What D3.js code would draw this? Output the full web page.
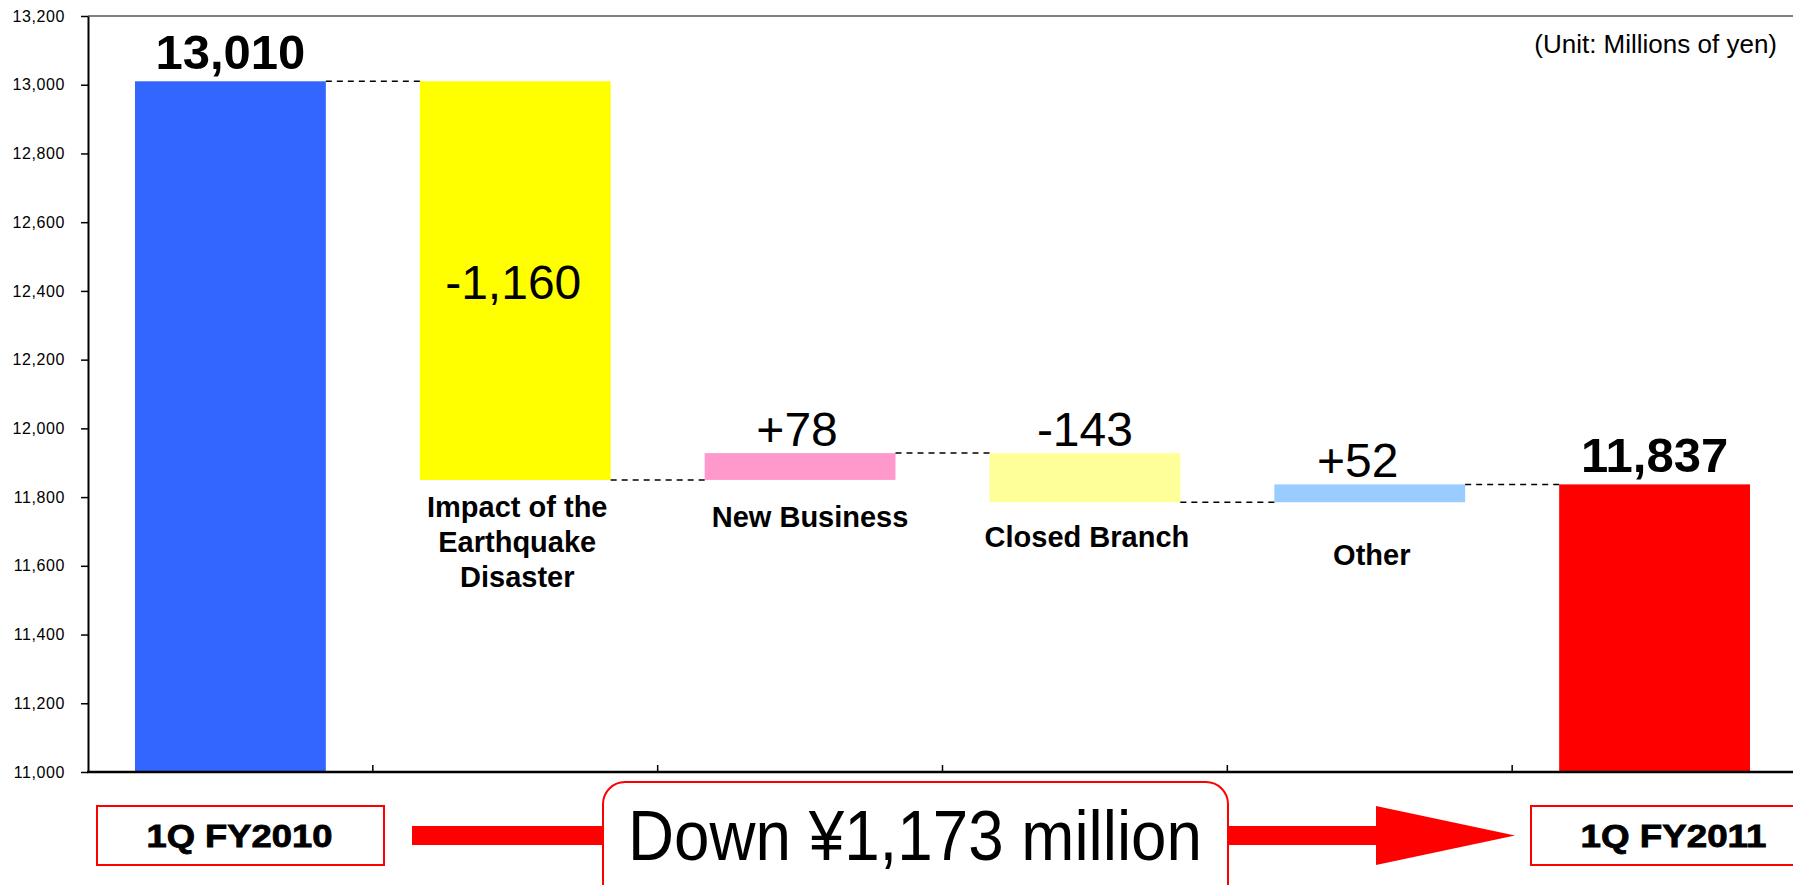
<!DOCTYPE html>
<html>
<head>
<meta charset="utf-8">
<script src="https://cdn.jsdelivr.net/npm/d3@7"></script>
<style>
  body { margin: 0; background: #fff; }
  text { font-family: "Liberation Sans", Arial, sans-serif; }
</style>
</head>
<body>
<div id="chart"></div>
<script>
const width = 1793, height = 885;

// data
const categories = ["1Q FY2010", "Impact of the Earthquake Disaster", "New Business", "Closed Branch", "Other", "1Q FY2011"];
const categoryLines = [[], ["Impact of the", "Earthquake", "Disaster"], ["New Business"], ["Closed Branch"], ["Other"], []];
const startValue = 13010;
const deltas = [-1160, 78, -143, 52];
const endValue = 11837;
const valueLabels = ["13,010", "-1,160", "+78", "-143", "+52", "11,837"];
const yTicks = [11000, 11200, 11400, 11600, 11800, 12000, 12200, 12400, 12600, 12800, 13000, 13200];
const unitText = "(Unit: Millions of yen)";
const summaryText = "Down ¥1,173 million";

// styles / layout
const barColors = ["#3366FF", "#FFFF00", "#FF99CC", "#FFFF99", "#99CCFF", "#FF0000"];
const labelDy = [0, 37, 47, 45, 63, 0];
const valueDx = [0, -2, -3, 0, -12, 0];
const margin = { top: 16, right: -4, bottom: 113, left: 88 };

const svg = d3.select("#chart").append("svg")
  .attr("width", width)
  .attr("height", height);

const x = d3.scaleBand()
  .domain(categories)
  .range([margin.left, width - margin.right])
  .padding(0);

const y = d3.scaleLinear()
  .domain([11000, 13200])
  .range([height - margin.bottom, margin.top]);

const barW = x.bandwidth() * 0.67;
const barOff = (x.bandwidth() - barW) / 2;

// build waterfall steps
const steps = [];
steps.push({ cat: categories[0], from: y.domain()[0], to: startValue, total: startValue });
let running = startValue;
deltas.forEach((d, i) => {
  steps.push({ cat: categories[i + 1], from: running, to: running + d, total: running + d });
  running += d;
});
steps.push({ cat: categories[5], from: y.domain()[0], to: endValue, total: endValue });

// top border
svg.append("line")
  .attr("x1", margin.left).attr("x2", width)
  .attr("y1", y(13200)).attr("y2", y(13200))
  .attr("stroke", "#808080").attr("stroke-width", 2);

// bars
svg.selectAll("rect.bar")
  .data(steps)
  .join("rect")
  .attr("class", "bar")
  .attr("x", d => x(d.cat) + barOff)
  .attr("width", barW)
  .attr("y", d => y(Math.max(d.from, d.to)))
  .attr("height", d => Math.abs(y(d.from) - y(d.to)))
  .attr("fill", (d, i) => barColors[i]);

// dashed connectors
svg.selectAll("line.conn")
  .data(steps.slice(0, -1))
  .join("line")
  .attr("class", "conn")
  .attr("x1", d => x(d.cat) + barOff + barW)
  .attr("x2", (d, i) => x(steps[i + 1].cat) + barOff)
  .attr("y1", d => y(d.total))
  .attr("y2", d => y(d.total))
  .attr("stroke", "#000")
  .attr("stroke-width", 1.5)
  .attr("stroke-dasharray", "6,5");

// y axis
const yAxis = svg.append("g")
  .attr("transform", `translate(${margin.left},0)`)
  .call(d3.axisLeft(y).tickValues(yTicks).tickFormat(d3.format(",")).tickSize(7).tickSizeOuter(0).tickPadding(16));
yAxis.select(".domain").attr("stroke", "#000").attr("stroke-width", 2);
yAxis.selectAll(".tick line").attr("stroke", "#000").attr("stroke-width", 1.5);
yAxis.selectAll(".tick text")
  .attr("font-family", "\"Liberation Sans\", Arial, sans-serif")
  .attr("font-size", 16)
  .attr("letter-spacing", 0.6)
  .attr("fill", "#000");

// x axis line with inner ticks at category boundaries
svg.append("line")
  .attr("x1", margin.left - 1).attr("x2", width)
  .attr("y1", y(11000)).attr("y2", y(11000))
  .attr("stroke", "#000").attr("stroke-width", 2.5);
svg.selectAll("line.xtick")
  .data(categories.slice(1))
  .join("line")
  .attr("class", "xtick")
  .attr("x1", d => x(d)).attr("x2", d => x(d))
  .attr("y1", y(11000)).attr("y2", y(11000) - 7)
  .attr("stroke", "#000").attr("stroke-width", 1.5);

// value labels and category labels
steps.forEach((d, i) => {
  const cx = x(d.cat) + x.bandwidth() / 2;
  const top = y(Math.max(d.from, d.to));
  const bottom = y(Math.min(d.from, d.to));
  const isTotal = i === 0 || i === steps.length - 1;
  const inside = !isTotal && bottom - top > 100;
  svg.append("text")
    .attr("x", cx + valueDx[i])
    .attr("y", inside ? (top + bottom) / 2 + 18 : top - (isTotal ? 12 : 7))
    .attr("text-anchor", "middle")
    .attr("font-size", isTotal ? 49 : 48)
    .attr("font-weight", isTotal ? "bold" : "normal")
    .attr("fill", "#000")
    .text(valueLabels[i]);

  const lines = categoryLines[i];
  if (lines.length) {
    const t = svg.append("text")
      .attr("text-anchor", "middle")
      .attr("font-size", 29)
      .attr("font-weight", "bold")
      .attr("fill", "#000");
    lines.forEach((ln, j) => {
      t.append("tspan")
        .attr("x", cx + (i === 2 ? 10 : 2))
        .attr("y", bottom + labelDy[i] + j * 35)
        .text(ln);
    });
  }
});

// unit note
svg.append("text")
  .attr("x", 1777).attr("y", 53)
  .attr("text-anchor", "end")
  .attr("font-size", 26)
  .attr("fill", "#000")
  .text(unitText);

// bottom period boxes
const boxes = [
  { label: categories[0], x: 97, w: 287 },
  { label: categories[5], x: 1531, w: 287 }
];
boxes.forEach(b => {
  svg.append("rect")
    .attr("x", b.x).attr("y", 806)
    .attr("width", b.w).attr("height", 59)
    .attr("fill", "#fff")
    .attr("stroke", "#FF0000").attr("stroke-width", 2);
  svg.append("text")
    .attr("x", b.x + b.w / 2 - 1).attr("y", 847)
    .attr("text-anchor", "middle")
    .attr("font-size", 31)
    .attr("font-weight", "bold")
    .attr("textLength", 186)
    .attr("lengthAdjust", "spacingAndGlyphs")
    .attr("fill", "#000")
    .attr("stroke", "#000")
    .attr("stroke-width", 0.8)
    .text(b.label);
});

// arrow
svg.append("rect")
  .attr("x", 412).attr("y", 826)
  .attr("width", 1376 - 412).attr("height", 19)
  .attr("fill", "#FF0000");
svg.append("path")
  .attr("d", "M1376,806 L1515,835.5 L1376,865 Z")
  .attr("fill", "#FF0000");

// summary box
svg.append("rect")
  .attr("x", 603).attr("y", 782)
  .attr("width", 625).attr("height", 130)
  .attr("rx", 22).attr("ry", 22)
  .attr("fill", "#fff")
  .attr("stroke", "#FF0000").attr("stroke-width", 2);
svg.append("text")
  .attr("x", 915).attr("y", 860)
  .attr("text-anchor", "middle")
  .attr("font-size", 70)
  .attr("textLength", 574)
  .attr("lengthAdjust", "spacingAndGlyphs")
  .attr("fill", "#000")
  .text(summaryText);
</script>
</body>
</html>
